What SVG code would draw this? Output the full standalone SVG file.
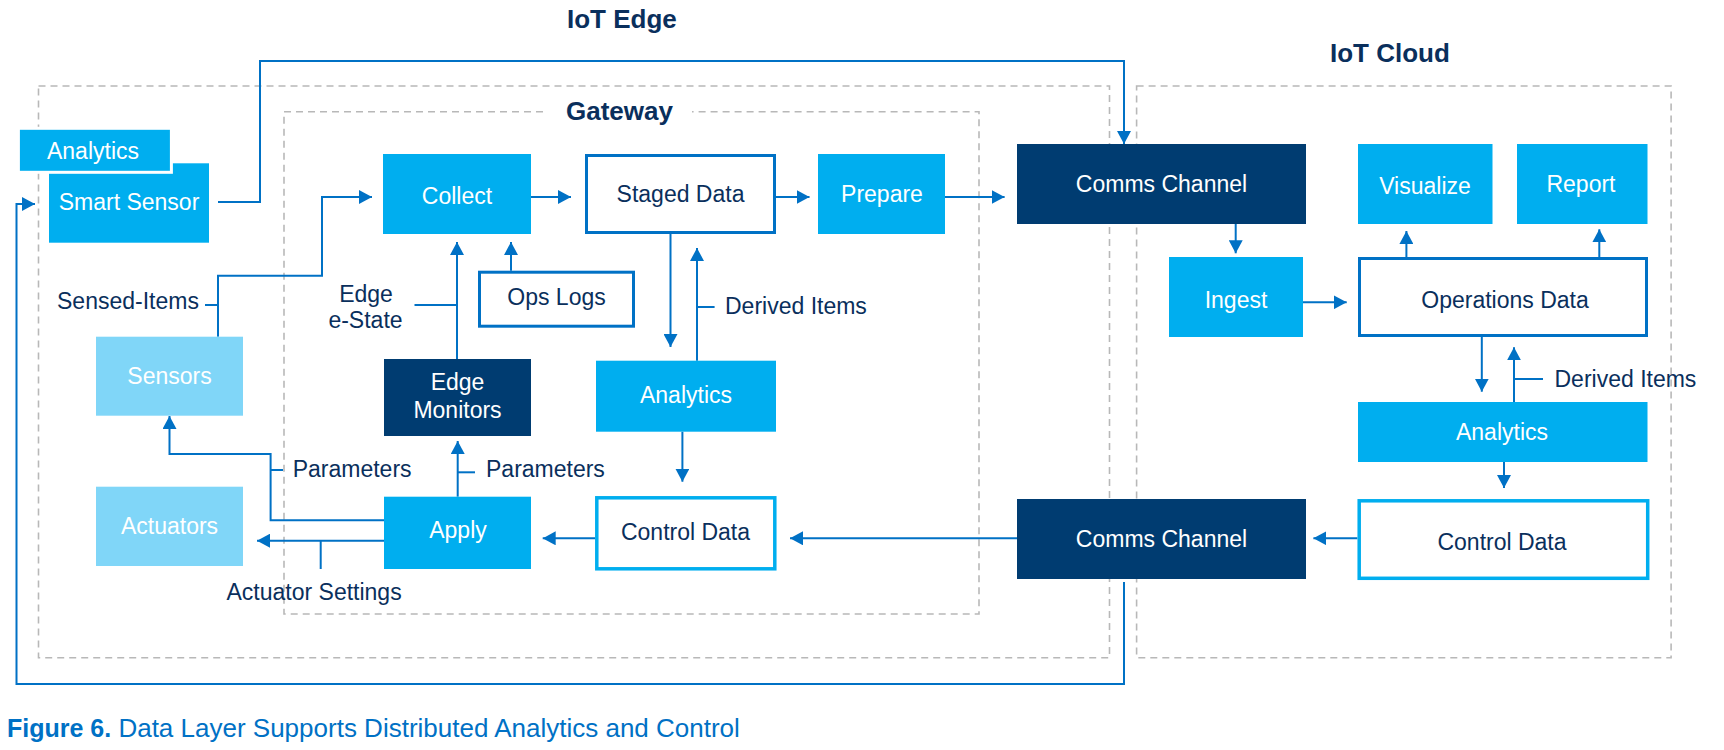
<svg xmlns="http://www.w3.org/2000/svg" width="1724" height="750" viewBox="0 0 1724 750">
<style>
.dash{fill:none;stroke:#b8b8b8;stroke-width:1.6;stroke-dasharray:7 5}
.title{font-family:"Liberation Sans",Arial,sans-serif;font-weight:bold;font-size:26px;fill:#0a2f5c}
.t{font-family:"Liberation Sans",Arial,sans-serif;font-size:23px}
.w{fill:#ffffff}
.d{fill:#0a2f5c}
.c{text-anchor:middle}
.cyan{fill:#00aeef}
.navy{fill:#003c71}
.light{fill:#80d6f8}
.ob{fill:#ffffff;stroke:#0071c5;stroke-width:3}
.oc{fill:#ffffff;stroke:#00aeef;stroke-width:3.5}
#connectors path{fill:none;stroke:#0071c5;stroke-width:2}
.a{marker-end:url(#arr)}
</style>
<defs>
<marker id="arr" markerUnits="userSpaceOnUse" markerWidth="13" markerHeight="14" refX="13" refY="7" orient="auto">
<path d="M0,0 L13,7 L0,14 Z" fill="#0071c5"/>
</marker>
</defs>
<rect width="1724" height="750" fill="#ffffff"/>
<g id="groups">
<rect class="dash" x="38.5" y="86" width="1071" height="571.7"/>
<rect class="dash" x="1136.6" y="86" width="534.5" height="571.7"/>
<path class="dash" d="M543,111.7 H284 V614 H979 V111.7 H692"/>
<text class="title" x="567" y="28.3">IoT Edge</text>
<text class="title" x="1330" y="61.7">IoT Cloud</text>
<text class="title" x="566" y="120" font-size="25">Gateway</text>
</g>
<g id="connectors">
<path class="a" d="M218,202 H260 V61 H1124 V144"/>
<path class="a" d="M1124,582 V684 H16.5 V204 H35"/>
<path class="a" d="M218,336.7 V275.7 H322 V197 H372"/>
<path d="M205,305 H218"/>
<path class="a" d="M531,197 H571"/>
<path class="a" d="M776,197 H809.5"/>
<path class="a" d="M945,197 H1004.6"/>
<path class="a" d="M511,270.7 V242"/>
<path class="a" d="M457,359 V242"/>
<path d="M414.5,305 H457"/>
<path class="a" d="M670.5,234 V347"/>
<path class="a" d="M697,360.7 V248"/>
<path d="M697,307 H714.6"/>
<path class="a" d="M682.4,431.7 V481.7"/>
<path class="a" d="M595,538.3 H542.7"/>
<path class="a" d="M1017,538.3 H790"/>
<path class="a" d="M1357.4,538.3 H1313.4"/>
<path class="a" d="M1504,462 V488"/>
<path class="a" d="M1481.8,337 V391.7"/>
<path class="a" d="M1514,402 V347.3"/>
<path d="M1514,379 H1543"/>
<path class="a" d="M1406.4,257 V231"/>
<path class="a" d="M1599.3,257 V229.3"/>
<path class="a" d="M1235.7,224 V253.3"/>
<path class="a" d="M1303,302.3 H1346.7"/>
<path class="a" d="M384,520.3 H270.6 V454 H169.5 V416"/>
<path d="M270.6,470 H283"/>
<path class="a" d="M457.7,496.7 V441"/>
<path d="M457.7,472.3 H475"/>
<path class="a" d="M384,540.7 H257"/>
<path d="M320.7,540.7 V569"/>
</g>
<g id="labels">
<text class="t d" x="57" y="309">Sensed-Items</text>
<text class="t d c" x="366" y="301.7">Edge</text>
<text class="t d c" x="365.5" y="328">e-State</text>
<text class="t d" x="725" y="314">Derived Items</text>
<text class="t d" x="292.7" y="476.7">Parameters</text>
<text class="t d" x="486" y="476.7">Parameters</text>
<text class="t d" x="226.5" y="600">Actuator Settings</text>
<text class="t d" x="1554.5" y="386.5">Derived Items</text>
</g>
<g id="smart-sensor">
<rect class="cyan" x="49" y="163.3" width="160" height="79.4"/>
<text class="t w c" x="129" y="209.7">Smart Sensor</text>
</g>
<g id="analytics-sensor">
<rect class="cyan" x="18.4" y="128.3" width="153" height="44" stroke="#ffffff" stroke-width="3"/>
<text class="t w c" x="93" y="158.7">Analytics</text>
</g>
<g id="sensors">
<rect class="light" x="96" y="336.7" width="147" height="79"/>
<text class="t w c" x="169.5" y="384">Sensors</text>
</g>
<g id="actuators">
<rect class="light" x="96" y="486.7" width="147" height="79.3"/>
<text class="t w c" x="169.5" y="534.3">Actuators</text>
</g>
<g id="collect">
<rect class="cyan" x="383" y="154" width="148" height="80"/>
<text class="t w c" x="457" y="204">Collect</text>
</g>
<g id="staged-data">
<rect class="ob" x="586.5" y="155.5" width="188" height="77"/>
<text class="t d c" x="680.5" y="202">Staged Data</text>
</g>
<g id="prepare">
<rect class="cyan" x="818" y="154" width="127" height="80"/>
<text class="t w c" x="882" y="202">Prepare</text>
</g>
<g id="ops-logs">
<rect class="ob" x="479.5" y="272.2" width="154" height="54"/>
<text class="t d c" x="556.5" y="305">Ops Logs</text>
</g>
<g id="edge-monitors">
<rect class="navy" x="384" y="359" width="147" height="77"/>
<text class="t w c" x="457.5" y="390">Edge</text>
<text class="t w c" x="457.5" y="418">Monitors</text>
</g>
<g id="analytics-gateway">
<rect class="cyan" x="596" y="360.7" width="180" height="71"/>
<text class="t w c" x="686" y="403">Analytics</text>
</g>
<g id="control-data-gateway">
<rect class="oc" x="596.8" y="497.8" width="178" height="71"/>
<text class="t d c" x="685.5" y="540">Control Data</text>
</g>
<g id="apply">
<rect class="cyan" x="384" y="496.7" width="147" height="72.3"/>
<text class="t w c" x="458" y="538.3">Apply</text>
</g>
<g id="comms-channel-top">
<rect class="navy" x="1017" y="144" width="289" height="80"/>
<text class="t w c" x="1161.5" y="192">Comms Channel</text>
</g>
<g id="comms-channel-bottom">
<rect class="navy" x="1017" y="499" width="289" height="80"/>
<text class="t w c" x="1161.5" y="546.5">Comms Channel</text>
</g>
<g id="ingest">
<rect class="cyan" x="1169" y="257" width="134" height="80"/>
<text class="t w c" x="1236" y="308.3">Ingest</text>
</g>
<g id="operations-data">
<rect class="ob" x="1359.5" y="258.5" width="287" height="77"/>
<text class="t d c" x="1505" y="308.3">Operations Data</text>
</g>
<g id="visualize">
<rect class="cyan" x="1358" y="144" width="134.5" height="80"/>
<text class="t w c" x="1425" y="194.3">Visualize</text>
</g>
<g id="report">
<rect class="cyan" x="1517" y="144" width="130.5" height="80"/>
<text class="t w c" x="1581" y="191.7">Report</text>
</g>
<g id="analytics-cloud">
<rect class="cyan" x="1358" y="402" width="289.5" height="60"/>
<text class="t w c" x="1502" y="440">Analytics</text>
</g>
<g id="control-data-cloud">
<rect class="oc" x="1359.2" y="500.8" width="288.5" height="77.5"/>
<text class="t d c" x="1502" y="550">Control Data</text>
</g>
<text x="7" y="736.7" font-family="'Liberation Sans',Arial,sans-serif" fill="#0071c5"><tspan font-weight="bold" font-size="25">Figure 6.</tspan><tspan font-size="26"> Data Layer Supports Distributed Analytics and Control</tspan></text>
</svg>
